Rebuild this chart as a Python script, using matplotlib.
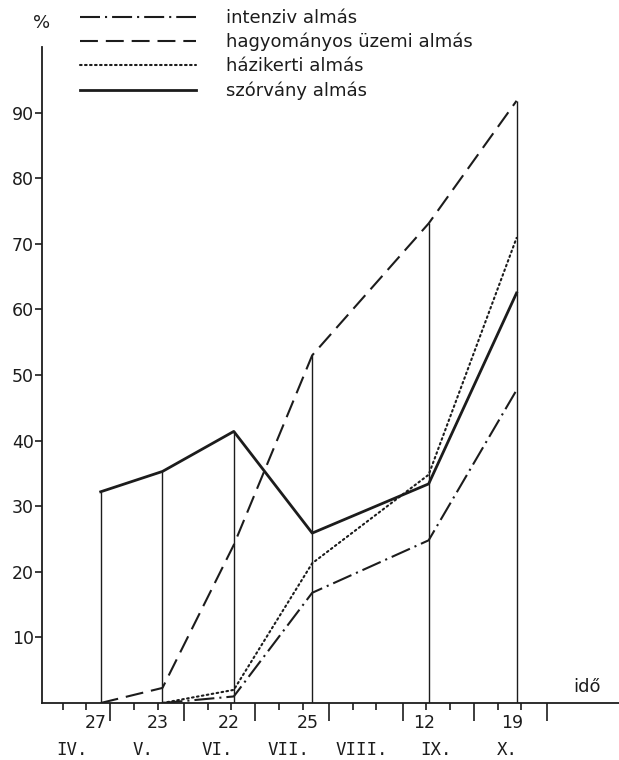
import matplotlib.pyplot as plt
import numpy as np

# dates (day of year) of the measurements
dates = [117, 143, 173, 206, 255, 292]
day_labels = ["27", "23", "22", "25", "12", "19"]

# percent values
intenziv = [np.nan, 0.0, 1.0, 16.8, 24.8, 47.7]
hagyomanyos = [0.0, 2.3, 24.1, 53.0, 73.1, 91.8]
hazikerti = [np.nan, 0.0, 2.0, 21.3, 34.8, 70.9]
szorvany = [32.2, 35.3, 41.4, 25.9, 33.4, 62.5]

series_names = ["intenziv almás", "hagyományos üzemi almás",
                "házikerti almás", "szórvány almás"]

months = ["IV.", "V.", "VI.", "VII.", "VIII.", "IX.", "X."]
month_starts = [121, 152, 182, 213, 244, 274, 305]
month_mids = [105, 135, 166, 196, 227, 258, 288]
minor_days = [101, 111, 131, 141, 162, 172, 192, 202, 223, 233, 254, 264,
              284, 294]

ink = "#1c1c1c"

fig = plt.figure(figsize=(6.19, 7.6), dpi=100)
ax = fig.add_axes([42 / 619, 57 / 760, 1 - 42 / 619, 656 / 760])

ax.plot(dates, intenziv, color=ink, lw=1.5, linestyle=(0, (9.6, 2.4, 1, 2.4)),
        label=series_names[0])
ax.plot(dates, hagyomanyos, color=ink, lw=1.5, linestyle=(0, (8.6, 3.8)),
        label=series_names[1])
ax.plot(dates, hazikerti, color=ink, lw=1.5, linestyle=(0, (0.8, 1.6)),
        dash_capstyle="round", label=series_names[2])
ax.plot(dates, szorvany, color=ink, lw=2.0, label=series_names[3])

# vertical lines up to the highest value of each date
tops = np.nanmax(np.array([intenziv, hagyomanyos, hazikerti, szorvany]), axis=0)
ax.vlines(dates, 0, tops, color=ink, lw=1.0)

ax.set_xlim(92.3, 335.1)
ax.set_ylim(0, 100)

for s in ["top", "right"]:
    ax.spines[s].set_visible(False)
for s in ["left", "bottom"]:
    ax.spines[s].set_color(ink)
    ax.spines[s].set_linewidth(1.3)

ax.set_yticks(range(10, 100, 10))
ax.tick_params(axis="y", direction="out", length=5, width=1.2, colors=ink,
               labelsize=12.5, pad=1)

ax.set_xticks(month_starts)
ax.set_xticklabels([])
ax.set_xticks(minor_days, minor=True)
ax.tick_params(axis="x", which="major", direction="out", length=13, width=1.2,
               colors=ink)
ax.tick_params(axis="x", which="minor", direction="out", length=5, width=1.2,
               colors=ink)

trans = ax.get_xaxis_transform()
for d, lab in zip(dates, day_labels):
    ax.text(d - 2, -0.0305, lab, transform=trans, ha="center", va="center",
            fontsize=12.5, color=ink)
for d, lab in zip(month_mids, months):
    ax.text(d, -0.0716, lab, transform=trans, ha="center", va="center",
            fontsize=12.5, color=ink, family="DejaVu Sans Mono")

ax.text(0, 1.037, "%", transform=ax.transAxes, ha="center", va="center",
        fontsize=13, color=ink)
ax.text(0.945, 0.025, "idő", transform=ax.transAxes, ha="center", va="center",
        fontsize=13, color=ink)

fig.legend(loc="upper left", bbox_to_anchor=(80 / 619, 1 - 9 / 760),
           frameon=False, fontsize=13, handlelength=6.4, handletextpad=1.7,
           labelspacing=0.33, borderpad=0, borderaxespad=0, labelcolor=ink)

fig.savefig("out.png", dpi=100, facecolor="white")
